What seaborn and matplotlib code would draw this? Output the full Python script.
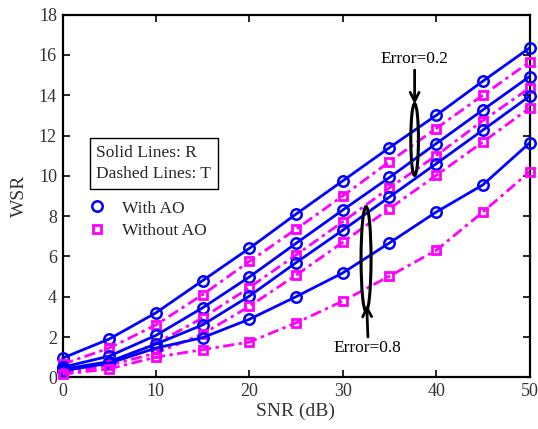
import numpy as np
import pandas as pd
import matplotlib
matplotlib.use("Agg")
import matplotlib.pyplot as plt
import seaborn as sns
from matplotlib.patches import Ellipse
from matplotlib.lines import Line2D

snr = [0, 5, 10, 15, 20, 25, 30, 35, 40, 45, 50]

r_err02_a = [0.95, 1.9, 3.2, 4.8, 6.4, 8.1, 9.75, 11.4, 13.0, 14.7, 16.35]
t_err02_a = [0.65, 1.45, 2.6, 4.1, 5.75, 7.35, 9.0, 10.7, 12.35, 14.0, 15.65]
r_err02_b = [0.5, 1.05, 2.08, 3.45, 4.98, 6.65, 8.3, 9.92, 11.6, 13.27, 14.93]
t_err02_b = [0.3, 0.75, 1.67, 2.95, 4.45, 6.07, 7.72, 9.4, 11.0, 12.74, 14.36]
r_err08_a = [0.4, 0.78, 1.65, 2.6, 4.03, 5.69, 7.3, 8.95, 10.6, 12.27, 13.95]
t_err08_a = [0.2, 0.6, 1.2, 2.15, 3.52, 5.07, 6.7, 8.37, 10.02, 11.68, 13.36]
r_err08_b = [0.32, 0.7, 1.45, 1.97, 2.88, 4.0, 5.18, 6.67, 8.2, 9.55, 11.63]
t_err08_b = [0.15, 0.42, 1.0, 1.37, 1.75, 2.7, 3.78, 5.02, 6.3, 8.2, 10.2]

series = [
    ("R1", r_err02_a, "R"), ("T1", t_err02_a, "T"),
    ("R2", r_err02_b, "R"), ("T2", t_err02_b, "T"),
    ("R3", r_err08_a, "R"), ("T3", t_err08_a, "T"),
    ("R4", r_err08_b, "R"), ("T4", t_err08_b, "T"),
]

sns.set_theme(style="ticks")
plt.rcParams['font.family'] = ['Liberation Serif', 'DejaVu Serif']
plt.rcParams['mathtext.fontset'] = 'stix'

BLUE = "#0000ff"
MAG = "#ff00ff"
GRAY = "#333333"

fig = plt.figure(figsize=(5.38, 4.29), dpi=100)
ax = fig.add_axes([62.5 / 538, 1 - 377.3 / 429, 467 / 538, 362.6 / 429])

for name, vals, kind in series:
    df = pd.DataFrame({"SNR": snr, "WSR": vals})
    if kind == "R":
        sns.lineplot(data=df, x="SNR", y="WSR", ax=ax, color=BLUE, lw=2.0,
                     marker="o", markersize=7.5, markerfacecolor="none",
                     markeredgecolor=BLUE, markeredgewidth=1.8, linestyle="-",
                     clip_on=False, zorder=3)
    else:
        sns.lineplot(data=df, x="SNR", y="WSR", ax=ax, color=MAG, lw=2.0,
                     marker="s", markersize=5.5, markerfacecolor="none",
                     markeredgecolor=MAG, markeredgewidth=2.0,
                     dashes=(4, 1.6, 1.2, 1.6), clip_on=False, zorder=3)

ax.set_xlim(0, 50)
ax.set_ylim(0, 18)
ax.set_xticks(range(0, 51, 10))
ax.set_yticks(range(0, 19, 2))
ax.tick_params(direction="in", top=True, right=True, length=5, width=1.2,
               labelsize=13, labelcolor=GRAY, colors="black", pad=4)
for s in ax.spines.values():
    s.set_linewidth(1.6)
    s.set_color("black")
ax.set_xlabel("SNR (dB)", fontsize=14, color=GRAY, labelpad=2)
ax.set_ylabel("WSR", fontsize=14, color=GRAY, labelpad=8)

# ellipses and arrows
ax.add_patch(Ellipse((37.7, 11.8), 0.82, 3.56, fill=False, ec="black", lw=2.2, zorder=4))
ax.add_patch(Ellipse((32.5, 5.87), 1.07, 5.2, fill=False, ec="black", lw=2.2, zorder=4))
ax.annotate("", xy=(37.7, 13.55), xytext=(37.7, 15.25),
            arrowprops=dict(arrowstyle="->", lw=2.0, color="black", mutation_scale=16,
                            shrinkA=0, shrinkB=0))
ax.annotate("", xy=(32.57, 3.6), xytext=(32.7, 2.0),
            arrowprops=dict(arrowstyle="->", lw=2.0, color="black", mutation_scale=16,
                            shrinkA=0, shrinkB=0))
ax.text(37.67, 15.8, "Error=0.2", ha="center", va="center", fontsize=12.5, color="black")
ax.text(32.68, 1.44, "Error=0.8", ha="center", va="center", fontsize=12.5, color="black")

# legend-ish box
ax.text(0.0728, 0.641, "Solid Lines: R\nDashed Lines: T", transform=ax.transAxes,
        ha="left", va="top", fontsize=12.5, linespacing=1.45,
        bbox=dict(boxstyle="square,pad=0.4", fc="white", ec="black", lw=1.0))

handles = [
    Line2D([], [], linestyle="none", marker="o", markersize=7.5, markerfacecolor="none",
           markeredgecolor=BLUE, markeredgewidth=1.8),
    Line2D([], [], linestyle="none", marker="s", markersize=5.5, markerfacecolor="none",
           markeredgecolor=MAG, markeredgewidth=2.0),
]
ax.legend(handles, ["With AO", "Without AO"], loc="upper left",
          bbox_to_anchor=(0.0576, 0.488), frameon=False, fontsize=12.5,
          handlelength=0.9, handletextpad=1.0, labelspacing=0.35, borderpad=0,
          borderaxespad=0)

fig.savefig("out.png", dpi=100)
